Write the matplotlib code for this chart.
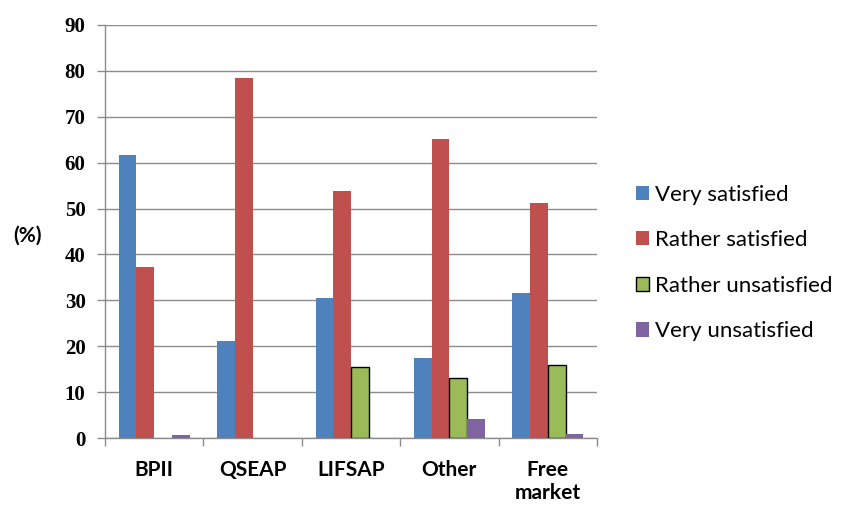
import matplotlib.pyplot as plt
import numpy as np

categorias = ["BPII", "QSEAP", "LIFSAP", "Other", "Free\nmarket"]
series = ["Very satisfied", "Rather satisfied", "Rather unsatisfied", "Very unsatisfied"]
muito_satisfeito = [61.6, 21.2, 30.6, 17.4, 31.5]
satisfeito = [37.3, 78.5, 53.8, 65.1, 51.2]
insatisfeito = [0.0, 0.0, 15.4, 13.1, 16.0]
muito_insatisfeito = [0.7, 0.0, 0.0, 4.1, 0.9]

valores = [muito_satisfeito, satisfeito, insatisfeito, muito_insatisfeito]
cores = ["#4F81BD", "#C0504D", "#9BBB59", "#8064A2"]
bordas = ["none", "none", "black", "none"]

plt.rcParams['font.family'] = ['Lato', 'DejaVu Sans']

fig = plt.figure(figsize=(8.41, 5.07), dpi=100)
ax = fig.add_axes([105 / 841, 1 - 438 / 507, 492 / 841, 413 / 507])

x = np.arange(len(categorias))
largura = 0.18
for i in range(len(series)):
    pos = x - 1.5 * largura + i * largura
    # valores zero ficam sem barra (senão a borda aparece como um traço)
    v = np.array(valores[i], dtype=float)
    v[v == 0] = np.nan
    ax.bar(pos, v, width=largura, color=cores[i],
           edgecolor=bordas[i], linewidth=1.0 if bordas[i] != "none" else 0,
           label=series[i], zorder=3)

ax.set_xlim(-0.5, len(categorias) - 0.5)
ax.set_ylim(0, 90)
ax.set_yticks(np.arange(0, 91, 10))
ax.yaxis.grid(True, color="#8c8c8c", linewidth=1.0, zorder=0)

# ticks do eixo x nas divisas entre categorias, rótulos no centro
ax.set_xticks(np.arange(-0.5, len(categorias)), minor=False)
ax.set_xticklabels([])
ax.set_xticks(x, minor=True)
ax.set_xticklabels(categorias, minor=True, fontsize=15, fontweight="bold",
                   linespacing=1.15)
ax.tick_params(axis="x", which="minor", length=0, pad=16)
ax.tick_params(axis="x", which="major", length=6, color="#8c8c8c", width=1)
ax.tick_params(axis="y", length=6, color="#8c8c8c", width=1, pad=8,
               labelsize=15)
for t in ax.get_yticklabels():
    t.set_fontweight("bold")
    t.set_family(["Liberation Serif", "DejaVu Serif"])

for lado in ["top", "right"]:
    ax.spines[lado].set_visible(False)
for lado in ["left", "bottom"]:
    ax.spines[lado].set_color("#8c8c8c")
    ax.spines[lado].set_linewidth(1.0)

fig.text(28 / 841, 1 - 236 / 507, "(%)", fontsize=15, fontweight="bold",
         ha="center", va="center")

ax.legend(loc="center left", bbox_to_anchor=(636 / 841, 1 - 263 / 507),
          bbox_transform=fig.transFigure, frameon=False, fontsize=16,
          handlelength=0.6, handleheight=0.6, handletextpad=0.25,
          labelspacing=1.15, borderaxespad=0, borderpad=0)

fig.savefig("out.png", dpi=100)
